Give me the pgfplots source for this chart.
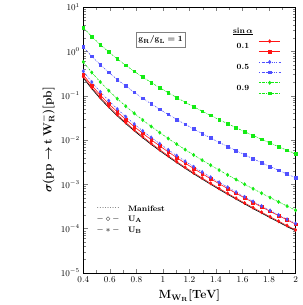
\documentclass[border=0pt]{standalone}
\usepackage{pgfplots}
\usepackage{pgfplotstable}
\usepackage{bm}
\pgfplotsset{compat=1.18}
\definecolor{myred}{RGB}{255,20,20}
\definecolor{myblue}{RGB}{80,80,255}
\definecolor{mygreen}{RGB}{20,235,20}
\pgfplotstableread{
x gu bu gl bl ru rl bk
0.4 3.44 1.25 0.579 0.357 0.295 0.269 0.251
0.464 2.16 0.772 0.334 0.203 0.170 0.153 0.143
0.528 1.42 0.500 0.204 0.122 0.103 0.0916 0.0857
0.592 0.964 0.336 0.130 0.0769 0.0655 0.0574 0.0538
0.656 0.675 0.232 0.0854 0.0500 0.0430 0.0373 0.0350
0.72 0.484 0.165 0.0578 0.0335 0.0290 0.0249 0.0234
0.784 0.354 0.119 0.0400 0.0229 0.0200 0.0170 0.0160
0.848 0.263 0.0875 0.0282 0.0160 0.0141 0.0119 0.0112
0.912 0.198 0.0653 0.0202 0.0114 0.0101 0.00842 0.00793
0.976 0.151 0.0493 0.0147 0.00822 0.00733 0.00606 0.00572
1.04 0.117 0.0377 0.0108 0.00600 0.00539 0.00442 0.00417
1.104 0.0907 0.0290 0.00806 0.00443 0.00400 0.00325 0.00308
1.168 0.0711 0.0226 0.00606 0.00331 0.00300 0.00242 0.00229
1.232 0.0562 0.0177 0.00460 0.00249 0.00227 0.00182 0.00172
1.296 0.0447 0.0140 0.00351 0.00189 0.00173 0.00138 0.00131
1.36 0.0358 0.0111 0.00270 0.00144 0.00133 0.00105 0.000997
1.424 0.0288 0.00885 0.00209 0.00111 0.00103 0.000808 0.000766
1.488 0.0233 0.00710 0.00163 0.000858 0.000801 0.000624 0.000593
1.552 0.0189 0.00573 0.00128 0.000667 0.000626 0.000485 0.000461
1.616 0.0154 0.00464 0.00100 0.000521 0.000492 0.000378 0.000360
1.68 0.0126 0.00377 0.000793 0.000410 0.000388 0.000297 0.000282
1.744 0.0104 0.00307 0.000629 0.000323 0.000308 0.000234 0.000223
1.808 0.00854 0.00252 0.000501 0.000256 0.000245 0.000185 0.000176
1.872 0.00706 0.00207 0.000401 0.000203 0.000196 0.000147 0.000140
1.936 0.00585 0.00170 0.000322 0.000162 0.000157 0.000117 0.000111
2.0 0.00486 0.00141 0.000259 0.000130 0.000126 0.0000933 0.0000891
}\data
\newcommand{\rs}{\rule[-1.5pt]{0pt}{7.5pt}}
\newcommand{\lowlab}[1]{\smash{\raisebox{-5.3pt}{\textbf{#1}}}}
\begin{document}
\begin{tikzpicture}
\begin{axis}[
  name=ax,
  scale only axis,
  width=214bp, height=268bp,
  xmin=0.4, xmax=2, ymin=1e-5, ymax=10,
  ymode=log,
  xtick={0.4,0.6,0.8,1,1.2,1.4,1.6,1.8,2},
  xticklabels={0.4,0.6,0.8,1,1.2,1.4,1.6,1.8,2},
  minor x tick num=1,
  ytick={1e-5,1e-4,1e-3,1e-2,1e-1,1,10},
  tick align=inside,
  tick label style={font=\small},
  xlabel={$\bm{\mathrm{M_{W_R}[TeV]}}$},
  ylabel={$\bm{\sigma(\mathrm{pp}\to\mathrm{t\,W_R^-})[\mathrm{pb}]}$},
  xlabel style={font=\large, at={(axis description cs:0.5,-0.086)}, anchor=center},
  ylabel style={font=\large, at={(axis description cs:-0.168,0.5)}, anchor=center},
  legend plot pos=right,
  legend style={at={(axis description cs:0.931,0.9235)}, anchor=north east, draw=none, fill=none,
    font=\footnotesize, row sep=3pt, inner sep=0pt, nodes={inner sep=0pt}, column sep=6pt},
  legend image code/.code={\draw[mark repeat=2,mark phase=2] plot coordinates {(0bp,0bp) (10.8bp,0bp) (21.6bp,0bp)};},
  every axis plot/.append style={line width=0.6pt},
]
\addlegendimage{empty legend}
\addlegendentry{$\underline{\bm{\sin\alpha}}$\rule[-4.5pt]{0pt}{10pt}}
\addplot[color=myred, solid, mark=diamond*, mark size=1.6pt] table[x=x,y=rl]{\data};
\addlegendentry{\rs\lowlab{0.1}}
\addplot[color=myred, solid, mark=square*, mark size=1.35pt] table[x=x,y=ru]{\data};
\addlegendentry{\rs}
\addplot[color=myblue, dash pattern=on 1.5pt off 1.2pt on 0.4pt off 1.2pt, mark=diamond*, mark size=1.6pt, mark options={solid}] table[x=x,y=bl]{\data};
\addlegendentry{\rs\lowlab{0.5}}
\addplot[color=myblue, dash pattern=on 1.5pt off 1.2pt on 0.4pt off 1.2pt, mark=square*, mark size=1.35pt, mark options={solid}] table[x=x,y=bu]{\data};
\addlegendentry{\rs}
\addplot[color=mygreen, dash pattern=on 2pt off 1pt on 0.4pt off 1pt, mark=diamond*, mark size=1.6pt, mark options={solid}] table[x=x,y=gl]{\data};
\addlegendentry{\rs\lowlab{0.9}}
\addplot[color=mygreen, dash pattern=on 2pt off 1pt on 0.4pt off 1pt, mark=square*, mark size=1.35pt, mark options={solid}] table[x=x,y=gu]{\data};
\addlegendentry{\rs}
\addplot[color=black, solid, line width=0.6pt, forget plot] table[x=x,y=bk]{\data};
\node[draw=gray, line width=0.7pt, fill=white, inner xsep=2.5pt, inner ysep=3.5pt, font=\footnotesize] at (axis description cs:0.364,0.877) {$\bm{\mathrm{g_R/g_L=1}}$};
\node[anchor=west, font=\small, inner sep=0pt] at (axis description cs:0.062,0.2425) {.........};
\node[anchor=west, font=\small, inner sep=0pt] at (axis description cs:0.062,0.2015) {$-\diamond-$};
\node[anchor=west, font=\small, inner sep=0pt] at (axis description cs:0.062,0.160) {$-\ast-$};
\node[anchor=west, font=\footnotesize, inner sep=0pt] at (axis description cs:0.21,0.2425) {\textbf{Manifest}};
\node[anchor=west, font=\footnotesize, inner sep=0pt] at (axis description cs:0.21,0.2015) {$\bm{\mathrm{U_A}}$};
\node[anchor=west, font=\footnotesize, inner sep=0pt] at (axis description cs:0.21,0.160) {$\bm{\mathrm{U_B}}$};
\end{axis}
\path ([shift={(-84bp,-30bp)}]ax.south west) rectangle ([shift={(7bp,7bp)}]ax.north east);
\end{tikzpicture}
\end{document}
